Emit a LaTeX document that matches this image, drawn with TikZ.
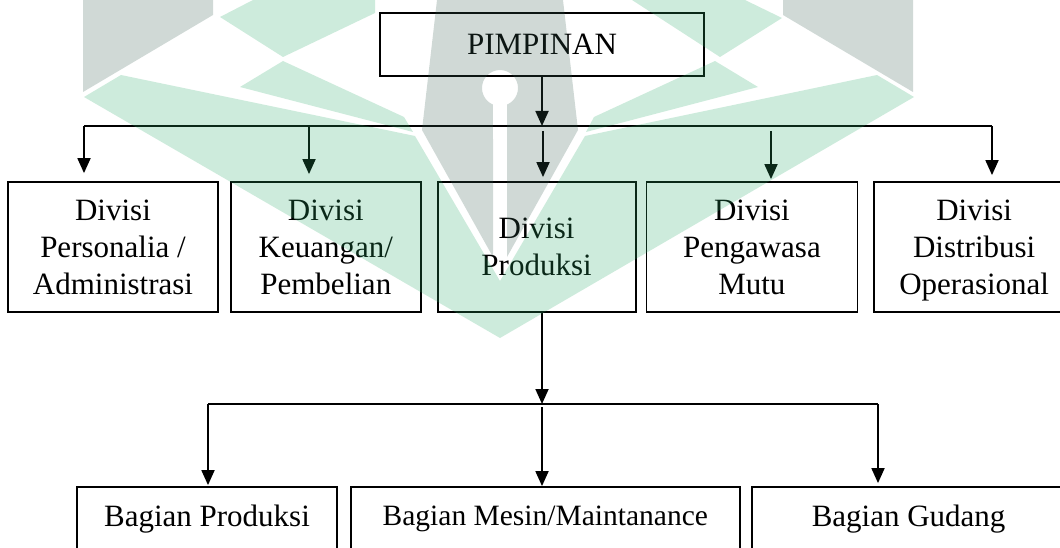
\documentclass[tikz,border=0pt]{standalone}
\usepackage{fontspec}
\setmainfont{Liberation Serif}
\usetikzlibrary{positioning, arrows.meta}
\definecolor{wmgreen}{RGB}{43,170,106}
\definecolor{wmgray}{RGB}{55,94,81}
\tikzset{
  dbox/.style={rectangle, draw, line width=1.8pt, align=center, inner sep=0pt,
               minimum height=130pt, text depth=0pt, font=\fontsize{31}{37}\selectfont},
  sbox/.style={rectangle, draw, line width=1.8pt, align=center, inner sep=0pt,
               minimum height=64pt, font=\fontsize{31}{37}\selectfont},
  ln/.style={line width=1.8pt},
  arr/.style={-{Triangle[length=15pt, width=13pt]}, line width=1.8pt},
  wmgn/.style={fill=wmgreen, fill opacity=0.235},
  wmgr/.style={fill=wmgray, fill opacity=0.235},
}
\begin{document}
\begin{tikzpicture}[x=1pt, y=-1pt]
  \useasboundingbox (0,0) rectangle (1060,548);
  % leader
  \node[dbox, minimum width=324pt, minimum height=63pt] (pim) at (542,44.5) {PIMPINAN};
  % divisions
  \node[dbox, minimum width=210pt] (dpers) at (113,247) {Divisi\\Personalia /\\Administrasi};
  \node[dbox, minimum width=190pt, right=11pt of dpers] (dkeu)  {Divisi\\Keuangan/\\Pembelian};
  \node[dbox, minimum width=198pt, right=15pt of dkeu]  (dprod) {Divisi\\Produksi};
  \node[dbox, minimum width=211pt, right=9pt of dprod]  (dmutu) {Divisi\\Pengawasa\\Mutu};
  \node[dbox, minimum width=200pt, right=15pt of dmutu] (ddist) {Divisi\\Distribusi\\Operasional};
  % sections under produksi (bottom edge runs off the page)
  \node[sbox, minimum width=260pt] (bprod) at (207,519) {Bagian Produksi};
  \node[sbox, minimum width=389pt, right=12pt of bprod, font=\fontsize{29.5}{35}\selectfont] (bmesin) {Bagian Mesin/Maintanance};
  \node[sbox, minimum width=314pt, right=10pt of bmesin] (bgud) {Bagian Gudang};
  % top bus
  \coordinate (busL) at (84,126);
  \coordinate (busR) at (992,126);
  \coordinate (t2) at (309,126);
  \coordinate (t3) at (543,126);
  \coordinate (t4) at (771,126);
  \draw[arr] (pim.south) -- (pim.south |- busL);
  \draw[ln] (busL) -- (busR);
  \draw[arr, shorten >=8pt] (busL) -- (busL |- dpers.north);
  \draw[arr, shorten >=7pt] (t2) -- (t2 |- dkeu.north);
  \draw[arr, shorten <=5pt, shorten >=4pt] (t3) -- (t3 |- dprod.north);
  \draw[arr, shorten <=5pt, shorten >=2pt] (t4) -- (t4 |- dmutu.north);
  \draw[arr, shorten >=6pt] (busR) -- (busR |- ddist.north);
  % second bus
  \coordinate (jn) at (542,404);
  \coordinate (bus2L) at (208,404);
  \coordinate (bus2R) at (878,404);
  \draw[arr] (jn |- dprod.south) -- (jn);
  \draw[ln] (bus2L) -- (bus2R);
  \draw[arr, shorten >=1pt] (bus2L) -- (bus2L |- bprod.north);
  \draw[arr, shorten <=3pt] (jn) -- (jn |- bmesin.north);
  \draw[arr, shorten >=3pt] (bus2R) -- (bus2R |- bgud.north);
  % watermark, laid over the chart
  \fill[wmgr] (83,0) -- (213,0) -- (213,15) -- (83,92) -- cycle;
  \fill[wmgr] (783,0) -- (913,0) -- (913,92) -- (783,15) -- cycle;
  \fill[wmgr] (437,0) -- (563,0) -- (578,130) -- (507,257) -- (507,104.6)
    arc[start angle=67.1, end angle=-247.1, radius=18] -- (493,257) -- (422,130) -- cycle;
  \fill[wmgn] (253,0) -- (375,0) -- (375,13) -- (283,57) -- (220,17) -- cycle;
  \fill[wmgn] (632,0) -- (745,0) -- (782,18) -- (720,57) -- cycle;
  \fill[wmgn] (240,87) -- (283,61) -- (404,117) -- (413,132) -- cycle;
  \fill[wmgn] (758,87) -- (715,61) -- (594,117) -- (586,132) -- cycle;
  \fill[wmgn] (84,97) -- (121,75) -- (415,136) -- (500,281) -- (585,136)
    -- (877,75) -- (914,97) -- (500,338) -- cycle;
\end{tikzpicture}
\end{document}
